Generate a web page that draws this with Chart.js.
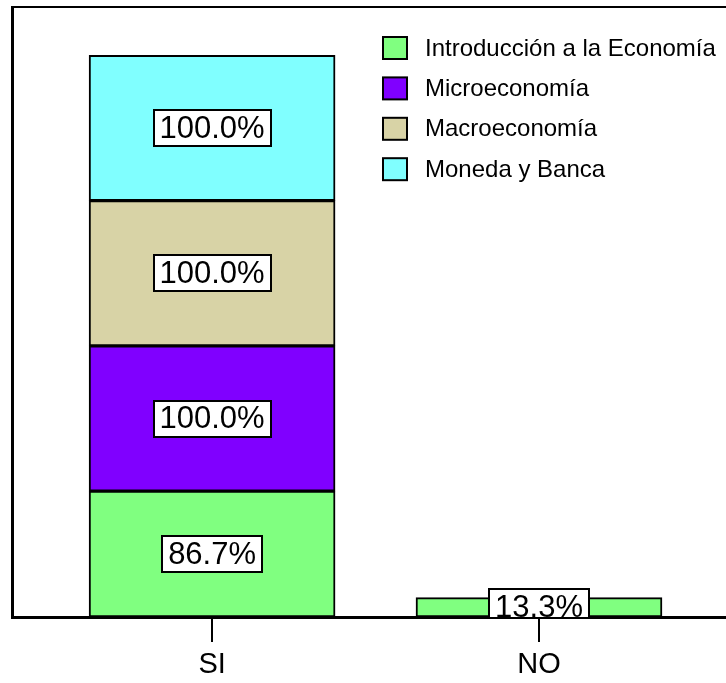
<!DOCTYPE html>
<html>
<head>
<meta charset="utf-8">
<title>Cursos aprobados</title>
<script src="https://cdn.jsdelivr.net/npm/chart.js@4"></script>
<style>
    body { margin: 0; background: #fff; }
</style>
</head>
<body>
<canvas id="coursesChart" width="726" height="683"></canvas>
<script>
var categories = ['SI', 'NO'];
var categoryPositions = [1, 2];

var courseNames = [
    'Introducción a la Economía',
    'Microeconomía',
    'Macroeconomía',
    'Moneda y Banca'
];

// counts per category (SI, NO)
var introCounts = [13, 2];
var microCounts = [15, null];
var macroCounts = [15, null];
var monedaCounts = [15, null];

// percent labels shown on each segment
var introPercents = [86.7, 13.3];
var microPercents = [100.0, null];
var macroPercents = [100.0, null];
var monedaPercents = [100.0, null];

var courseColors = ['#80ff80', '#8000ff', '#d8d3a6', '#80ffff'];

var fontFamily = '"Liberation Sans", Arial, Helvetica, sans-serif';

var toPoints = function(counts) {
    var points = [];
    counts.forEach(function(value, i) {
        if (value !== null) {
            points.push({ x: categoryPositions[i], y: value });
        }
    });
    return points;
};

var makeDataset = function(idx, counts, percents) {
    return {
        label: courseNames[idx],
        data: toPoints(counts),
        percents: percents,
        backgroundColor: courseColors[idx],
        borderColor: '#000',
        borderWidth: 2,
        borderSkipped: false,
        barThickness: 246
    };
};

var valueLabels = {
    id: 'valueLabels',
    afterDatasetsDraw: function(chart) {
        var ctx = chart.ctx;
        var area = chart.chartArea;
        ctx.save();
        ctx.font = '31px ' + fontFamily;
        ctx.textAlign = 'center';
        ctx.textBaseline = 'middle';
        chart.data.datasets.forEach(function(ds, di) {
            var meta = chart.getDatasetMeta(di);
            meta.data.forEach(function(bar, i) {
                var point = ds.data[i];
                var pct = ds.percents[categoryPositions.indexOf(point.x)];
                if (pct === null) return;
                var text = pct.toFixed(1) + '%';
                var props = bar.getProps(['x', 'y', 'base'], true);
                var cy = (props.y + props.base) / 2;
                var w = Math.round(ctx.measureText(text).width + 12);
                var h = 36;
                var left = Math.round(props.x - w / 2);
                var top = Math.round(cy - h / 2);

                ctx.save();
                ctx.beginPath();
                ctx.rect(area.left, area.top, area.right - area.left, area.bottom - area.top);
                ctx.clip();
                ctx.fillStyle = '#fff';
                ctx.fillRect(left, top, w, h);
                ctx.lineWidth = 2;
                ctx.strokeStyle = '#000';
                ctx.strokeRect(left, top, w, h);
                ctx.restore();

                ctx.fillStyle = '#000';
                ctx.fillText(text, props.x, cy + 1);
            });
        });
        ctx.restore();
    }
};

var boxLegend = {
    id: 'boxLegend',
    afterDraw: function(chart) {
        var ctx = chart.ctx;
        var x = 383, y = 48, rowGap = 40.4;
        ctx.save();
        ctx.font = '24px ' + fontFamily;
        ctx.textBaseline = 'middle';
        chart.data.datasets.forEach(function(ds, i) {
            var cy = y + i * rowGap;
            ctx.fillStyle = ds.backgroundColor;
            ctx.fillRect(x, cy - 11, 24, 22);
            ctx.lineWidth = 2;
            ctx.strokeStyle = '#000';
            ctx.strokeRect(x, cy - 11, 24, 22);
            ctx.fillStyle = '#000';
            ctx.fillText(ds.label, x + 42, cy + 1);
        });
        ctx.restore();
    }
};

var coursesChartConfig = {
    type: 'bar',
    data: {
        datasets: [
            makeDataset(0, introCounts, introPercents),
            makeDataset(1, microCounts, microPercents),
            makeDataset(2, macroCounts, macroPercents),
            makeDataset(3, monedaCounts, monedaPercents)
        ]
    },
    plugins: [valueLabels, boxLegend],
    options: {
        responsive: false,
        animation: false,
        layout: {
            padding: { left: 12, top: 7, right: 0, bottom: 0 }
        },
        plugins: {
            legend: { display: false },
            tooltip: { enabled: false }
        },
        scales: {
            x: {
                type: 'linear',
                stacked: true,
                offset: false,
                min: 0.388,
                max: 2.572,
                z: 1,
                afterBuildTicks: function(scale) {
                    scale.ticks = categoryPositions.map(function(v) { return { value: v }; });
                },
                afterFit: function(scale) {
                    scale.height = 66;
                },
                ticks: {
                    padding: 6,
                    color: '#000',
                    font: { family: fontFamily, size: 29 },
                    callback: function(value) {
                        return categories[categoryPositions.indexOf(value)];
                    }
                },
                grid: {
                    offset: false,
                    drawOnChartArea: false,
                    drawTicks: true,
                    tickLength: 25,
                    color: '#000',
                    lineWidth: 2
                },
                border: { display: true, color: '#000', width: 3 }
            },
            xTop: {
                type: 'linear',
                position: 'top',
                offset: false,
                ticks: { display: false },
                grid: { display: false, drawTicks: false },
                border: { display: true, color: '#000', width: 2 }
            },
            y: {
                stacked: true,
                min: 0,
                max: 63,
                ticks: { display: false },
                grid: { display: false, drawTicks: false },
                border: { display: true, color: '#000', width: 3 }
            }
        }
    }
};

window.onload = function() {
    var ctx = document.getElementById('coursesChart').getContext('2d');
    window.coursesChart = new Chart(ctx, coursesChartConfig);
};
</script>
</body>
</html>
